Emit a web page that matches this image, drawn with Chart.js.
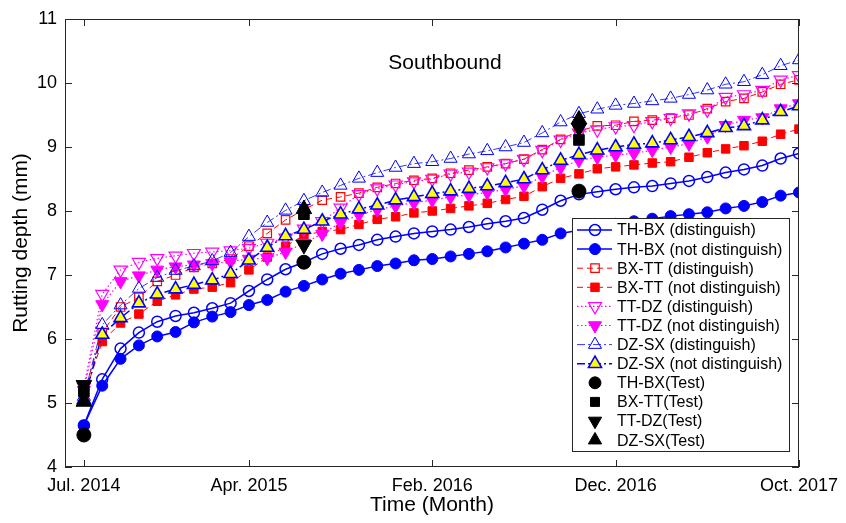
<!DOCTYPE html>
<html>
<head>
<meta charset="utf-8">
<script src="https://cdn.jsdelivr.net/npm/chart.js@4.4.1/dist/chart.umd.min.js"></script>
<style>
  html, body { margin: 0; padding: 0; background: #fff; }
  #wrap { width: 846px; height: 523px; }
</style>
</head>
<body>
<div id="wrap"><canvas id="c" width="846" height="523"></canvas></div>
<script>
// ---- data ----
const months = Array.from({length: 40}, (_, i) => i); // Jul. 2014 .. Oct. 2017
const tickMonths = [0, 9, 19, 29, 39];
const tickLabels = ['Jul. 2014', 'Apr. 2015', 'Feb. 2016', 'Dec. 2016', 'Oct. 2017'];
const yTicks = [4, 5, 6, 7, 8, 9, 10, 11];

const thbxDist = [4.65,5.37,5.85,6.10,6.27,6.36,6.41,6.48,6.56,6.75,6.93,7.09,7.20,7.33,7.41,7.47,7.55,7.60,7.65,7.68,7.71,7.75,7.80,7.84,7.89,8.02,8.16,8.26,8.30,8.34,8.37,8.39,8.43,8.47,8.53,8.60,8.65,8.71,8.82,8.90];
const thbxNot  = [4.65,5.27,5.69,5.90,6.04,6.11,6.26,6.35,6.42,6.53,6.61,6.74,6.83,6.93,7.02,7.08,7.14,7.18,7.23,7.25,7.29,7.33,7.37,7.43,7.49,7.55,7.65,7.70,7.75,7.80,7.84,7.88,7.92,7.95,7.98,8.04,8.08,8.14,8.24,8.29];
const bxttDist = [5.15,6.10,6.50,6.65,6.90,7.00,7.12,7.18,7.25,7.45,7.65,7.86,8.02,8.17,8.22,8.28,8.37,8.43,8.48,8.51,8.59,8.64,8.69,8.74,8.81,8.96,9.12,9.25,9.33,9.34,9.40,9.42,9.45,9.50,9.60,9.71,9.76,9.86,9.98,10.05];
const bxttNot  = [5.10,5.96,6.25,6.39,6.59,6.69,6.78,6.81,6.88,7.08,7.28,7.45,7.62,7.68,7.71,7.79,7.87,7.91,7.97,8.00,8.04,8.08,8.12,8.18,8.23,8.38,8.51,8.58,8.66,8.69,8.72,8.75,8.77,8.84,8.91,8.97,9.02,9.09,9.20,9.28];
const ttdzDist = [5.25,6.70,7.08,7.20,7.26,7.30,7.34,7.36,7.38,7.42,7.50,7.58,7.72,7.84,8.05,8.26,8.35,8.41,8.46,8.50,8.58,8.61,8.68,8.74,8.81,8.95,9.11,9.22,9.27,9.32,9.34,9.40,9.45,9.52,9.58,9.78,9.82,9.89,10.05,10.12];
const ttdzNot  = [5.20,6.54,6.90,6.99,7.08,7.13,7.16,7.18,7.21,7.25,7.26,7.36,7.50,7.64,7.82,7.94,8.02,8.08,8.13,8.17,8.22,8.25,8.29,8.34,8.39,8.54,8.68,8.79,8.84,8.875,8.90,8.95,9.00,9.05,9.16,9.34,9.42,9.46,9.60,9.68];
const dzsxDist = [5.10,6.22,6.53,6.79,6.96,7.07,7.14,7.22,7.35,7.60,7.82,8.01,8.16,8.29,8.40,8.51,8.60,8.68,8.74,8.77,8.82,8.89,8.94,9.00,9.07,9.22,9.39,9.52,9.59,9.65,9.68,9.72,9.76,9.82,9.89,9.98,10.02,10.13,10.27,10.36];
const dzsxNot  = [5.05,6.07,6.33,6.56,6.70,6.78,6.85,6.92,7.02,7.23,7.43,7.61,7.71,7.84,7.95,8.03,8.09,8.17,8.22,8.27,8.31,8.35,8.39,8.44,8.50,8.64,8.79,8.88,8.95,9.00,9.04,9.06,9.11,9.16,9.22,9.30,9.33,9.42,9.55,9.64];

const testMonths = [0, 12, 27];
const thbxTest = [4.50, 7.20, 8.31];
const bxttTest = [5.18, 7.95, 9.11];
const ttdzTest = [5.28, 7.47, 9.30];
const dzsxTest = [5.02, 8.03, 9.43];

// ---- build ----
const pts = (xs, ys) => xs.map((x, i) => ({x, y: ys[i]}));
const BLUE = '#0000ff', RED = '#ff0000', MAG = '#ff00ff', YEL = '#ffff00', BLK = '#000000', NONE = 'rgba(0,0,0,0)';

function series(label, ys, color, dash, lw, style, rot, r, fill, pbw) {
  return {label, data: pts(months, ys), borderColor: color, borderWidth: lw, borderDash: dash,
    pointStyle: style, pointRotation: rot, pointRadius: r, pointBackgroundColor: fill,
    pointBorderColor: color, pointBorderWidth: pbw, showLine: true, tension: 0, fill: false};
}
function test(label, ys, style, rot, r) {
  return {label, data: pts(testMonths, ys), showLine: false, borderColor: BLK, borderWidth: 0,
    pointStyle: style, pointRotation: rot, pointRadius: r, pointBackgroundColor: BLK,
    pointBorderColor: BLK, pointBorderWidth: 1};
}
const DOT = [1.5, 2.5], DASH = [6, 4], DASHDOT = [8, 3, 2, 3];
const datasets = [
  series('TH-BX (distinguish)', thbxDist, BLUE, [], 1.5, 'circle', 0, 5.5, NONE, 1.5),
  series('TH-BX (not distinguish)', thbxNot, BLUE, [], 1.5, 'circle', 0, 5.5, BLUE, 1),
  series('BX-TT (distinguish)', bxttDist, RED, DASH, 1, 'rect', 0, 6, NONE, 1.2),
  series('BX-TT (not distinguish)', bxttNot, RED, DASH, 1, 'rect', 0, 6, RED, 1),
  series('TT-DZ (distinguish)', ttdzDist, MAG, DOT, 1.2, 'triangle', 180, 7.5, NONE, 1.2),
  series('TT-DZ (not distinguish)', ttdzNot, MAG, DOT, 1.2, 'triangle', 180, 7.5, MAG, 1),
  series('DZ-SX (distinguish)', dzsxDist, BLUE, DASHDOT, 0.8, 'triangle', 0, 7.5, NONE, 1),
  series('DZ-SX (not distinguish)', dzsxNot, BLUE, DASHDOT, 1.5, 'triangle', 0, 7.5, YEL, 1.6),
  test('TH-BX(Test)', thbxTest, 'circle', 0, 7),
  test('BX-TT(Test)', bxttTest, 'rect', 0, 7.5),
  test('TT-DZ(Test)', ttdzTest, 'triangle', 180, 9),
  test('DZ-SX(Test)', dzsxTest, 'triangle', 0, 9)
];
datasets.forEach((d, i) => { d.order = datasets.length - i; });

const FONT = "'Liberation Sans', Arial, Helvetica, sans-serif";

function drawMarker(ctx, d, x, y, rScale) {
  ctx.save();
  ctx.setLineDash([]);
  ctx.lineWidth = d.pointBorderWidth;
  ctx.strokeStyle = d.pointBorderColor;
  ctx.fillStyle = d.pointBackgroundColor;
  Chart.helpers.drawPoint(ctx, {pointStyle: d.pointStyle, rotation: d.pointRotation,
    radius: d.pointRadius * rScale, borderWidth: d.pointBorderWidth}, x, y);
  ctx.restore();
}

const decor = {
  id: 'decor',
  afterDraw(chart) {
    const {ctx, chartArea: a, scales: {x, y}} = chart;
    ctx.save();
    // box
    ctx.strokeStyle = '#262626'; ctx.lineWidth = 1; ctx.setLineDash([]);
    ctx.strokeRect(a.left + 0.5, a.top + 0.5, a.right - a.left - 1, a.bottom - a.top - 1);
    // inward ticks
    ctx.beginPath();
    tickMonths.forEach(v => {
      const px = Math.round(x.getPixelForValue(v)) + 0.5;
      ctx.moveTo(px, a.bottom); ctx.lineTo(px, a.bottom - 7);
      ctx.moveTo(px, a.top); ctx.lineTo(px, a.top + 7);
    });
    yTicks.forEach(v => {
      const py = Math.round(y.getPixelForValue(v)) + 0.5;
      ctx.moveTo(a.left, py); ctx.lineTo(a.left + 7, py);
      ctx.moveTo(a.right, py); ctx.lineTo(a.right - 7, py);
    });
    ctx.stroke();
    // title inside plot
    ctx.fillStyle = '#000';
    ctx.font = '21px ' + FONT;
    ctx.textAlign = 'center'; ctx.textBaseline = 'middle';
    ctx.fillText('Southbound', 445, 63);
    // legend
    const L = 572, T = 218, R = 789, B = 451;
    ctx.fillStyle = '#fff';
    ctx.fillRect(L, T, R - L, B - T);
    ctx.strokeStyle = '#262626'; ctx.lineWidth = 1;
    ctx.strokeRect(L + 0.5, T + 0.5, R - L, B - T);
    ctx.font = '16px ' + FONT;
    ctx.textAlign = 'left'; ctx.textBaseline = 'middle';
    datasets.forEach((d, i) => {
      const ry = 230 + i * 19.1;
      if (d.showLine) {
        ctx.save();
        ctx.strokeStyle = d.borderColor; ctx.lineWidth = d.borderWidth;
        ctx.setLineDash(d.borderDash);
        ctx.beginPath(); ctx.moveTo(577, ry); ctx.lineTo(612, ry); ctx.stroke();
        ctx.restore();
      }
      drawMarker(ctx, d, 595, ry, d.showLine ? 1 : 0.85);
      ctx.fillStyle = '#000';
      ctx.fillText(d.label, 617, ry + 1);
    });
    ctx.restore();
  }
};

new Chart(document.getElementById('c'), {
  type: 'scatter',
  data: {datasets},
  options: {
    responsive: false,
    animation: false,
    devicePixelRatio: 1,
    layout: {padding: {top: 19, right: 41, bottom: 0, left: 0}},
    plugins: {legend: {display: false}, tooltip: {enabled: false}, title: {display: false}},
    scales: {
      x: {
        type: 'linear', min: -1.03, max: 39,
        afterBuildTicks: s => { s.ticks = tickMonths.map(v => ({value: v})); },
        afterFit: s => { s.height = 56; },
        grid: {display: false, drawTicks: false},
        border: {display: false},
        ticks: {autoSkip: false, maxRotation: 0, padding: 8, color: '#000',
          font: {family: FONT, size: 18},
          callback: v => tickLabels[tickMonths.indexOf(v)]},
        title: {display: true, text: 'Time (Month)', color: '#000',
          font: {family: FONT, size: 21}, padding: {top: 0, bottom: 5}}
      },
      y: {
        type: 'linear', min: 4, max: 11,
        afterBuildTicks: s => { s.ticks = yTicks.map(v => ({value: v})); },
        afterFit: s => { s.width = 65; },
        grid: {display: false, drawTicks: false},
        border: {display: false},
        ticks: {padding: 8, color: '#000', font: {family: FONT, size: 18}},
        title: {display: true, text: 'Rutting depth (mm)', color: '#000',
          font: {family: FONT, size: 21}, padding: {top: 9, bottom: 0}}
      }
    }
  },
  plugins: [decor]
});
</script>
</body>
</html>
